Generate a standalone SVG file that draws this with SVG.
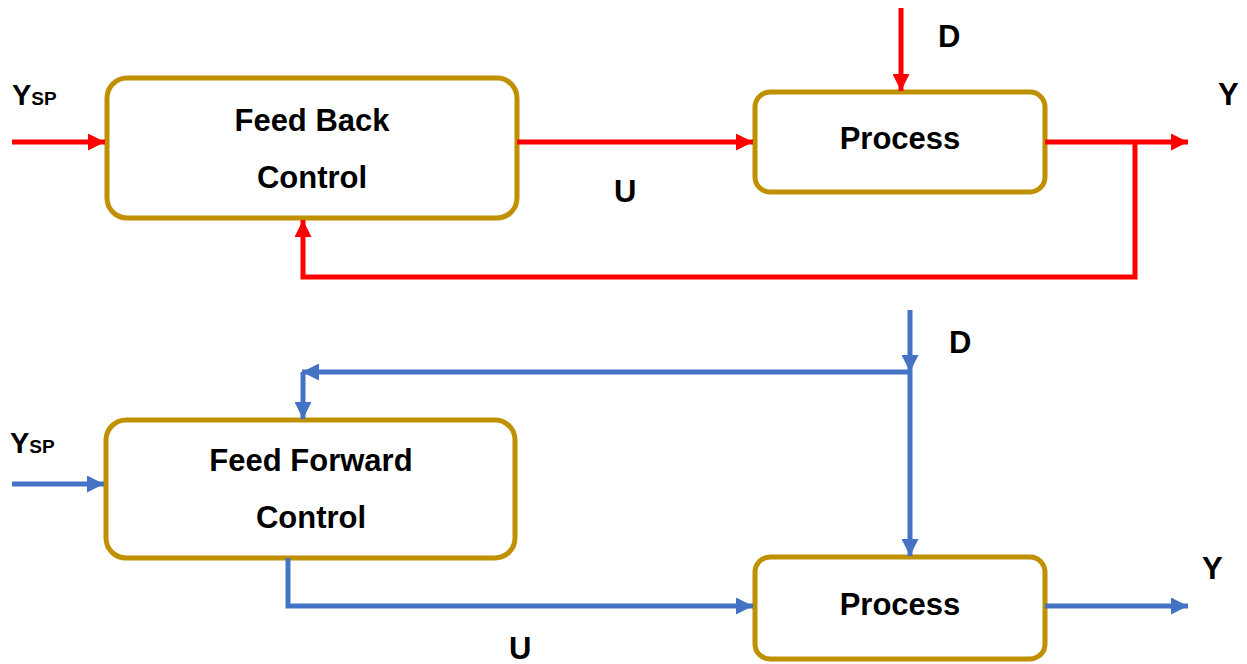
<svg xmlns="http://www.w3.org/2000/svg" width="1247" height="664" viewBox="0 0 1247 664">
  <style>
    .box { fill: #FFFFFF; stroke: #BF9000; stroke-width: 5; }
    .lbl { font-family: "Liberation Sans", Arial, sans-serif; font-weight: bold; fill: #000000; }
    .big { font-size: 31px; }
    .sub { font-size: 19px; }
    .red { fill: none; stroke: #FF0000; stroke-width: 5; }
    .blue { fill: none; stroke: #4472C4; stroke-width: 5; }
  </style>
  <defs>
    <marker id="arrRed" viewBox="0 0 10 10" refX="10" refY="5" markerWidth="3.8" markerHeight="3.4" orient="auto" markerUnits="strokeWidth">
      <path d="M0,0 L10,5 L0,10 Z" fill="#FF0000"/>
    </marker>
    <marker id="arrBlue" viewBox="0 0 10 10" refX="10" refY="5" markerWidth="3.8" markerHeight="3.4" orient="auto" markerUnits="strokeWidth">
      <path d="M0,0 L10,5 L0,10 Z" fill="#4472C4"/>
    </marker>
  </defs>

  <!-- Feedback loop -->
  <g id="fb-control">
    <rect class="box" x="107" y="78" width="410" height="140" rx="20"/>
    <text class="lbl big" x="312" y="131" text-anchor="middle">Feed Back</text>
    <text class="lbl big" x="312" y="188" text-anchor="middle">Control</text>
  </g>
  <g id="fb-process">
    <rect class="box" x="755" y="92" width="290" height="100" rx="15"/>
    <text class="lbl big" x="900" y="149" text-anchor="middle">Process</text>
  </g>

  <!-- Feedforward loop -->
  <g id="ff-control">
    <rect class="box" x="106" y="420" width="409" height="138" rx="20"/>
    <text class="lbl big" x="311" y="471" text-anchor="middle">Feed Forward</text>
    <text class="lbl big" x="311" y="528" text-anchor="middle">Control</text>
  </g>
  <g id="ff-process">
    <rect class="box" x="755" y="557" width="290" height="102" rx="15"/>
    <text class="lbl big" x="900" y="615" text-anchor="middle">Process</text>
  </g>

  <g id="connectors">
    <!-- feedback: red -->
    <line class="red" x1="12" y1="142" x2="105" y2="142" marker-end="url(#arrRed)"/>
    <line class="red" x1="517" y1="142" x2="753" y2="142" marker-end="url(#arrRed)"/>
    <line class="red" x1="901" y1="8" x2="901" y2="91" marker-end="url(#arrRed)"/>
    <line class="red" x1="1045" y1="142" x2="1188" y2="142" marker-end="url(#arrRed)"/>
    <polyline class="red" points="1135,142 1135,277 303,277 303,220" marker-end="url(#arrRed)"/>

    <!-- feedforward: blue -->
    <line class="blue" x1="12" y1="484" x2="104" y2="484" marker-end="url(#arrBlue)"/>
    <line class="blue" x1="910" y1="310" x2="910" y2="372" marker-end="url(#arrBlue)"/>
    <line class="blue" x1="910" y1="372" x2="910" y2="556" marker-end="url(#arrBlue)"/>
    <line class="blue" x1="910" y1="372" x2="302" y2="372" marker-end="url(#arrBlue)"/>
    <line class="blue" x1="303" y1="372" x2="303" y2="419" marker-end="url(#arrBlue)"/>
    <polyline class="blue" points="288,558 288,606 753,606" marker-end="url(#arrBlue)"/>
    <line class="blue" x1="1045" y1="606" x2="1188" y2="606" marker-end="url(#arrBlue)"/>
  </g>

  <!-- signal labels -->
  <g id="labels">
    <text class="lbl" x="12" y="105"><tspan font-size="29">Y</tspan><tspan font-size="19">SP</tspan></text>
    <text class="lbl big" x="614" y="202">U</text>
    <text class="lbl big" x="938" y="47">D</text>
    <text class="lbl big" x="1218" y="105">Y</text>

    <text class="lbl" x="10" y="453"><tspan font-size="29">Y</tspan><tspan font-size="19">SP</tspan></text>
    <text class="lbl big" x="949" y="353">D</text>
    <text class="lbl big" x="509" y="659">U</text>
    <text class="lbl big" x="1202" y="579">Y</text>
  </g>
</svg>
